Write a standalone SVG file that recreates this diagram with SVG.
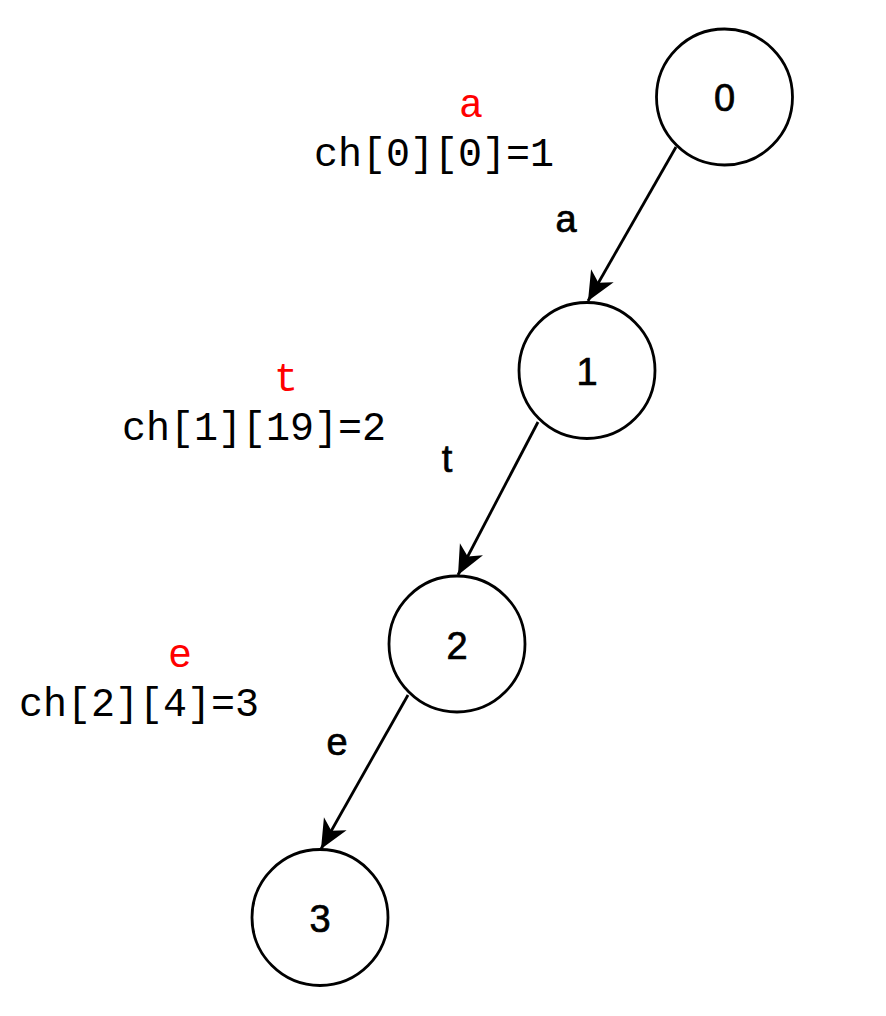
<svg xmlns="http://www.w3.org/2000/svg" width="886" height="1016" viewBox="0 0 886 1016">
<style>
.node circle{fill:#fff;stroke:#000;stroke-width:2.8}
.nl{font-family:"Liberation Sans",Arial,sans-serif;font-size:38px;text-anchor:middle;fill:#000;stroke:#000;stroke-width:0.7}
.el{font-family:"Liberation Sans",Arial,sans-serif;font-size:38px;text-anchor:middle;fill:#000;stroke:#000;stroke-width:0.7}
.mono{font-family:"Liberation Mono","Courier New",monospace;font-size:40px;fill:#000}
.red{fill:#ff0000}
.edge{stroke:#000;stroke-width:2.8;fill:none;marker-end:url(#arr)}
</style>
<defs>
<marker id="arr" markerUnits="userSpaceOnUse" viewBox="-30 -15 32 30" refX="0" refY="0" markerWidth="32" markerHeight="30" orient="auto">
<path d="M0,0 L-29,-13 L-21,0 L-29,13 Z" fill="#000"/>
</marker>
</defs>
<rect width="886" height="1016" fill="#fff"/>
<g id="connectors">
<line class="edge" x1="676" y1="147" x2="588" y2="301"/>
<line class="edge" x1="538" y1="422" x2="458" y2="575"/>
<line class="edge" x1="408" y1="695" x2="321" y2="849"/>
<text class="el" x="566" y="232">a</text>
<text class="el" x="447" y="472">t</text>
<text class="el" x="337" y="755">e</text>
</g>
<g id="node0" class="node"><circle cx="724.5" cy="97" r="68"/><text class="nl" x="724.5" y="111">0</text></g>
<g id="node1" class="node"><circle cx="587" cy="370.5" r="68"/><text class="nl" x="587" y="385">1</text></g>
<g id="node2" class="node"><circle cx="457" cy="644" r="68"/><text class="nl" x="457" y="659">2</text></g>
<g id="node3" class="node"><circle cx="320" cy="917.5" r="68"/><text class="nl" x="320" y="932">3</text></g>
<g id="label0"><text class="mono red" x="471" y="117" text-anchor="middle">a</text><text class="mono" x="314" y="166">ch[0][0]=1</text></g>
<g id="label1"><text class="mono red" x="286" y="391" text-anchor="middle">t</text><text class="mono" x="122" y="440">ch[1][19]=2</text></g>
<g id="label2"><text class="mono red" x="180" y="667" text-anchor="middle">e</text><text class="mono" x="19" y="716">ch[2][4]=3</text></g>
</svg>
